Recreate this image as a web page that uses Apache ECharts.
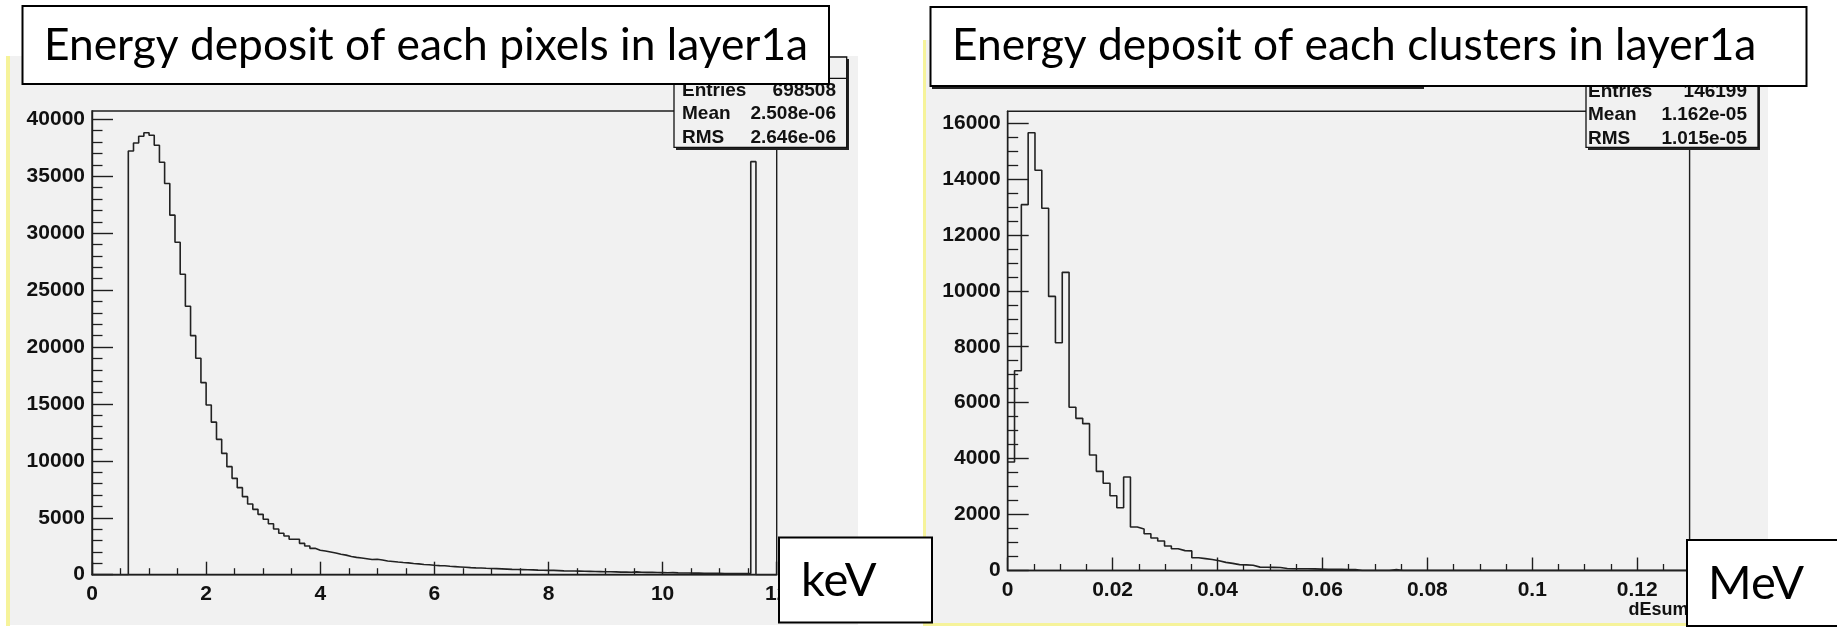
<!DOCTYPE html>
<html>
<head>
<meta charset="utf-8">
<script src="https://cdn.jsdelivr.net/npm/echarts@6/dist/echarts.min.js"></script>
<style>
html,body{margin:0;padding:0;background:#ffffff;}
#chart{width:1837px;height:627px;}
</style>
</head>
<body>
<div id="chart"></div>
<script>
// ---------------- DATA ----------------
const panelTitles = ["Energy deposit of each pixels in layer1a", "Energy deposit of each clusters in layer1a"];
const unitLabels = ["keV", "MeV"];
const clusterXTitle = "dEsum";

// pixel histogram: 132 equal bins over [0, 12]
const pixelRange = [0, 12];
const pixelCounts = [
  0, 0, 0, 0, 0, 0, 0, 37215, 37918, 38505,
  38822, 38594, 37716, 36222, 34360, 31580, 29195, 26385, 23575, 20995,
  19010, 16870, 14905, 13400, 11890, 10660, 9490, 8465, 7645, 6855,
  6210, 5740, 5300, 4865, 4480, 4015, 3635, 3400, 3110, 3110,
  2755, 2520, 2315, 2150, 2080, 1995, 1905, 1800, 1720, 1600,
  1520, 1470, 1400, 1330, 1360, 1290, 1200, 1160, 1110, 1070,
  1040, 990, 950, 900, 870, 830, 800, 790, 740, 710,
  680, 650, 620, 600, 590, 560, 540, 530, 510, 490,
  470, 460, 450, 440, 420, 400, 395, 380, 380, 360,
  340, 330, 320, 310, 300, 290, 280, 270, 260, 260,
  250, 230, 240, 220, 250, 210, 200, 220, 190, 180,
  170, 180, 160, 150, 150, 140, 150, 130, 130, 120,
  120, 110, 110, 110, 100, 100, 100, 36280, 0, 0,
  0, 0
];
const pixelXTicks = [0, 2, 4, 6, 8, 10, 12];
const pixelYTicks = [0, 5000, 10000, 15000, 20000, 25000, 30000, 35000, 40000];
const pixelYMax = 40729;
const pixelStats = [["Entries", "698508"], ["Mean", "2.508e-06"], ["RMS", "2.646e-06"]];

// cluster histogram: 100 equal bins over [0, 0.13]
const clusterRange = [0, 0.13];
const clusterCounts = [
  3880, 7140, 13080, 15650, 14310, 12950, 9800, 8145, 10660, 5835,
  5440, 5250, 4130, 3545, 3120, 2675, 2245, 3345, 1555, 1485,
  1315, 1160, 1055, 875, 780, 710, 700, 455, 425, 395,
  350, 290, 255, 210, 200, 190, 120, 115, 110, 105,
  70, 65, 62, 60, 58, 50, 42, 40, 40, 38,
  35, 0, 0, 0, 0, 0, 30, 0, 0, 0,
  0, 0, 0, 0, 0, 0, 0, 0, 0, 0,
  0, 0, 0, 0, 0, 0, 0, 0, 0, 0,
  0, 0, 0, 0, 0, 0, 0, 0, 0, 0,
  0, 0, 0, 0, 0, 0, 0, 0, 0, 0
];
const clusterXTicks = [0, 0.02, 0.04, 0.06, 0.08, 0.1, 0.12];
const clusterYTicks = [0, 2000, 4000, 6000, 8000, 10000, 12000, 14000, 16000];
const clusterYMax = 16418;
const clusterStats = [["Entries", "146199"], ["Mean", "1.162e-05"], ["RMS", "1.015e-05"]];

// ---------------- HELPERS ----------------
function stepData(counts, range) {
  const w = (range[1] - range[0]) / counts.length;
  const pts = counts.map((c, i) => [range[0] + i * w, c]);
  pts.push([range[1], counts[counts.length - 1]]);
  return pts;
}
function minorValues(ticks, sub, max) {
  const out = [];
  const step = (ticks[1] - ticks[0]) / sub;
  const n = Math.floor(max / step + 1e-9);
  for (let k = 1; k <= n; k++) {
    if (k % sub !== 0) out.push(+(k * step).toFixed(6));
  }
  return out;
}

const INK = '#1e1e1e';
const LABEL_FONT = { fontFamily: 'Liberation Sans', fontWeight: 'bold', fontSize: 21, color: '#111' };

function majorAxis(gridIndex, pos, min, max, ticks, tickLen, margin, extra) {
  return Object.assign({
    type: 'value', gridIndex, position: pos, min, max, offset: 0,
    splitLine: { show: false },
    axisLine: { show: true, onZero: false, lineStyle: { color: INK, width: 1.4 } },
    axisTick: { show: true, inside: true, length: tickLen, customValues: ticks, lineStyle: { color: INK, width: 1.4 } },
    axisLabel: Object.assign({ show: true, margin, customValues: ticks, formatter: v => String(v) }, LABEL_FONT),
    minorTick: { show: false }
  }, extra || {});
}
function minorAxis(gridIndex, pos, min, max, vals, tickLen) {
  return {
    type: 'value', gridIndex, position: pos, min, max, offset: 0,
    splitLine: { show: false },
    axisLine: { show: false, onZero: false },
    axisLabel: { show: false },
    axisTick: { show: true, inside: true, length: tickLen, customValues: vals, lineStyle: { color: INK, width: 1.3 } }
  };
}

// ---------------- CHART ----------------
const chart = echarts.init(document.getElementById('chart'), null, { renderer: 'canvas' });

const statFont = 'bold 19px "Liberation Sans"';
function statTexts(rows, xl, xr, ys) {
  const els = [];
  rows.forEach((r, i) => {
    els.push({ type: 'text', z: 60, style: { text: r[0], x: xl, y: ys[i], font: statFont, fill: '#111', textAlign: 'left', textVerticalAlign: 'middle' } });
    els.push({ type: 'text', z: 60, style: { text: r[1], x: xr, y: ys[i], font: statFont, fill: '#111', textAlign: 'right', textVerticalAlign: 'middle' } });
  });
  return els;
}
const titleFont = '44.3px Lato';
const unitFont = '47px Lato';

const graphics = [
  // canvases (slide pictures)
  { type: 'rect', z: -10, shape: { x: 6, y: 56, width: 4, height: 570 }, style: { fill: '#f6f39a' } },
  { type: 'rect', z: -10, shape: { x: 10, y: 56, width: 848, height: 569 }, style: { fill: '#f1f1f1' } },
  { type: 'rect', z: -10, shape: { x: 923, y: 40, width: 3, height: 586 }, style: { fill: '#f6f39a' } },
  { type: 'rect', z: -10, shape: { x: 923, y: 623, width: 845, height: 3 }, style: { fill: '#f6f39a' } },
  { type: 'rect', z: -10, shape: { x: 926, y: 40, width: 842, height: 583 }, style: { fill: '#f1f1f1' } },

  // stat boxes
  { type: 'rect', z: 50, shape: { x: 676, y: 59, width: 173, height: 91 }, style: { fill: '#222' } },
  { type: 'rect', z: 51, shape: { x: 674, y: 57, width: 172.7, height: 90.3 }, style: { fill: '#f1f1f1', stroke: '#111', lineWidth: 1.3 } },
  { type: 'line', z: 52, shape: { x1: 674, y1: 78.3, x2: 846.7, y2: 78.3 }, style: { stroke: '#111', lineWidth: 1.3 } },
  ...statTexts(pixelStats, 682, 836, [90.7, 114, 137.3]),
  { type: 'rect', z: 50, shape: { x: 1588, y: 59, width: 172, height: 91 }, style: { fill: '#222' } },
  { type: 'rect', z: 51, shape: { x: 1586, y: 57, width: 172, height: 90.3 }, style: { fill: '#f1f1f1', stroke: '#111', lineWidth: 1.3 } },
  ...statTexts(clusterStats, 1588, 1747, [91.7, 115, 138.3]),

  // right ROOT title pave shadow
  { type: 'rect', z: 69, shape: { x: 932, y: 86, width: 492, height: 3 }, style: { fill: '#222' } },

  // slide title boxes
  { type: 'rect', z: 70, shape: { x: 22.5, y: 6, width: 806.5, height: 78 }, style: { fill: '#fff', stroke: '#000', lineWidth: 2 } },
  { type: 'text', z: 71, style: { text: panelTitles[0], x: 44, y: 46, font: titleFont, fill: '#000', textAlign: 'left', textVerticalAlign: 'middle' } },
  { type: 'rect', z: 70, shape: { x: 930.5, y: 7, width: 876, height: 79 }, style: { fill: '#fff', stroke: '#000', lineWidth: 2 } },
  { type: 'text', z: 71, style: { text: panelTitles[1], x: 952, y: 46, font: titleFont, fill: '#000', textAlign: 'left', textVerticalAlign: 'middle' } },

  // unit boxes
  { type: 'rect', z: 70, shape: { x: 779, y: 537.5, width: 153, height: 85 }, style: { fill: '#fff', stroke: '#000', lineWidth: 2 } },
  { type: 'text', z: 71, style: { text: unitLabels[0], x: 801, y: 581, font: unitFont, fill: '#000', textAlign: 'left', textVerticalAlign: 'middle' } },
  { type: 'rect', z: 70, shape: { x: 1687, y: 540, width: 170, height: 86 }, style: { fill: '#fff', stroke: '#000', lineWidth: 2 } },
  { type: 'text', z: 71, style: { text: unitLabels[1], x: 1708, y: 584, font: unitFont, fill: '#000', textAlign: 'left', textVerticalAlign: 'middle' } }
];

const option = {
  animation: false,
  backgroundColor: '#ffffff',
  grid: [
    { left: 92, top: 111, width: 684.7, height: 463.7, show: true, backgroundColor: '#f1f1f1', borderColor: INK, borderWidth: 1.4 },
    { left: 1007.7, top: 111.3, width: 681.9, height: 459.2, show: true, backgroundColor: '#f1f1f1', borderColor: INK, borderWidth: 1.4 }
  ],
  xAxis: [
    majorAxis(0, 'bottom', pixelRange[0], pixelRange[1], pixelXTicks, 13, 9),
    majorAxis(1, 'bottom', clusterRange[0], clusterRange[1], clusterXTicks, 13, 9, {
      name: clusterXTitle, nameLocation: 'end', nameGap: -1,
      nameTextStyle: { fontFamily: 'Liberation Sans', fontWeight: 'bold', fontSize: 18, color: '#111', align: 'right', verticalAlign: 'top', padding: [31, 0, 0, 0] }
    }),
    minorAxis(0, 'bottom', pixelRange[0], pixelRange[1], minorValues(pixelXTicks, 4, pixelRange[1]), 6.5),
    minorAxis(1, 'bottom', clusterRange[0], clusterRange[1], minorValues(clusterXTicks, 4, clusterRange[1]), 6.5)
  ],
  yAxis: [
    majorAxis(0, 'left', 0, pixelYMax, pixelYTicks, 21, 7),
    majorAxis(1, 'left', 0, clusterYMax, clusterYTicks, 21, 7),
    minorAxis(0, 'left', 0, pixelYMax, minorValues(pixelYTicks, 5, pixelYMax), 10.5),
    minorAxis(1, 'left', 0, clusterYMax, minorValues(clusterYTicks, 4, clusterYMax), 10.5)
  ],
  series: [
    { type: 'line', xAxisIndex: 0, yAxisIndex: 0, step: 'end', showSymbol: false, symbol: 'none', data: stepData(pixelCounts, pixelRange), lineStyle: { color: '#222', width: 1.6 }, z: 5 },
    { type: 'line', xAxisIndex: 1, yAxisIndex: 1, step: 'end', showSymbol: false, symbol: 'none', data: stepData(clusterCounts, clusterRange), lineStyle: { color: '#222', width: 1.6 }, z: 5 }
  ],
  graphic: { elements: graphics }
};
chart.setOption(option);
</script>
</body>
</html>
